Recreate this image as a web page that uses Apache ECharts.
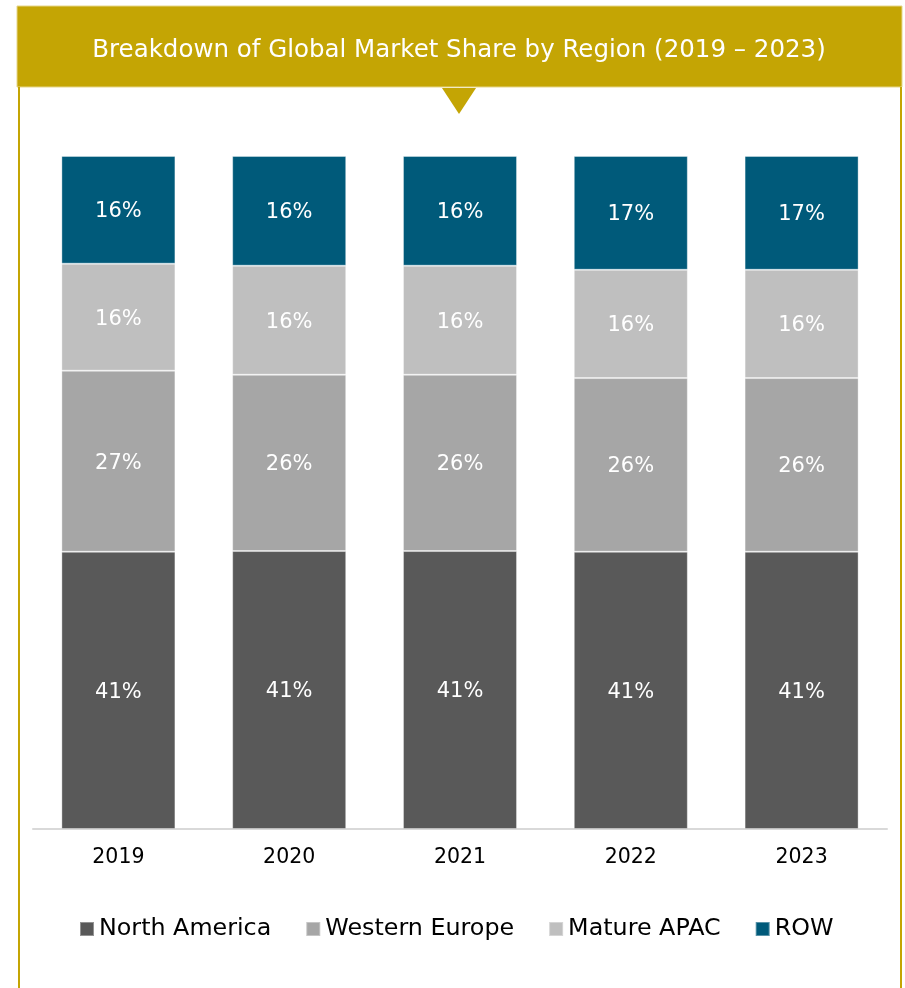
<!DOCTYPE html>
<html>
<head>
<meta charset="utf-8">
<title>Breakdown of Global Market Share by Region</title>
<script src="https://cdn.jsdelivr.net/npm/echarts@6/dist/echarts.min.js"></script>
<style>
  html, body { margin: 0; padding: 0; background: #ffffff; }
  #main { width: 905px; height: 988px; }
</style>
</head>
<body>
<div id="main"></div>
<script>
// data (share of global market, %)
var years = ['2019', '2020', '2021', '2022', '2023'];
var regions = ['North America', 'Western Europe', 'Mature APAC', 'ROW'];
var northAmerica = [41.2, 41.3, 41.3, 41.2, 41.2];
var westernEurope = [26.9, 26.2, 26.2, 25.8, 25.8];
var matureApac = [15.9, 16.2, 16.2, 16.1, 16.1];
var rowShare = [16.0, 16.3, 16.3, 16.9, 16.9];

var colors = ['#595959', '#a6a6a6', '#bfbfbf', '#005a7a'];
var gold = '#c4a504';
var font = 'DejaVu Sans';

var chart = echarts.init(document.getElementById('main'), null, { renderer: 'canvas' });

function makeSeries(name, values) {
  return {
    name: name,
    type: 'bar',
    stack: 'share',
    barWidth: 114,
    data: values,
    itemStyle: {
      borderColor: 'rgba(255,255,255,0.35)',
      borderWidth: 1
    },
    label: {
      show: true,
      position: 'inside',
      offset: [0, 2],
      color: '#ffffff',
      fontFamily: font,
      fontSize: 21,
      formatter: function (p) {
        return Math.round(p.value) + '%';
      }
    },
    emphasis: { disabled: true }
  };
}

var option = {
  backgroundColor: '#ffffff',
  animation: false,
  color: colors,
  title: {
    text: 'Breakdown of Global Market Share by Region (2019 \u2013 2023)',
    left: 454,
    textAlign: 'center',
    top: 33,
    z: 10,
    textStyle: {
      color: '#ffffff',
      fontFamily: font,
      fontWeight: 'normal',
      fontSize: 24.5
    }
  },
  graphic: [
    {
      type: 'rect',
      z: 1,
      shape: { x: 17, y: 6, width: 885, height: 81 },
      style: { fill: gold, stroke: '#e6d68a', lineWidth: 1 }
    },
    {
      type: 'polygon',
      z: 1,
      shape: { points: [[442, 88], [476, 88], [459, 114]] },
      style: { fill: gold }
    },
    {
      type: 'line',
      z: 1,
      shape: { x1: 19, y1: 87, x2: 19, y2: 988 },
      style: { stroke: gold, lineWidth: 2 }
    },
    {
      type: 'line',
      z: 1,
      shape: { x1: 901, y1: 87, x2: 901, y2: 988 },
      style: { stroke: gold, lineWidth: 2 }
    }
  ],
  legend: {
    data: regions,
    left: 74,
    top: 912,
    icon: 'rect',
    itemWidth: 14,
    itemHeight: 14,
    itemGap: 34,
    selectedMode: false,
    textStyle: {
      color: '#000000',
      fontFamily: font,
      fontSize: 23.8
    }
  },
  grid: {
    left: 33,
    right: 18,
    top: 156,
    bottom: 159,
    containLabel: false
  },
  xAxis: {
    type: 'category',
    data: years,
    axisLine: { show: true, lineStyle: { color: '#d9d9d9', width: 2 } },
    axisTick: { show: false },
    axisLabel: {
      color: '#000000',
      fontFamily: font,
      fontSize: 20.5,
      margin: 18
    }
  },
  yAxis: {
    type: 'value',
    min: 0,
    max: 100,
    show: false,
    splitLine: { show: false }
  },
  series: [
    makeSeries(regions[0], northAmerica),
    makeSeries(regions[1], westernEurope),
    makeSeries(regions[2], matureApac),
    makeSeries(regions[3], rowShare)
  ]
};

chart.setOption(option);
</script>
</body>
</html>
